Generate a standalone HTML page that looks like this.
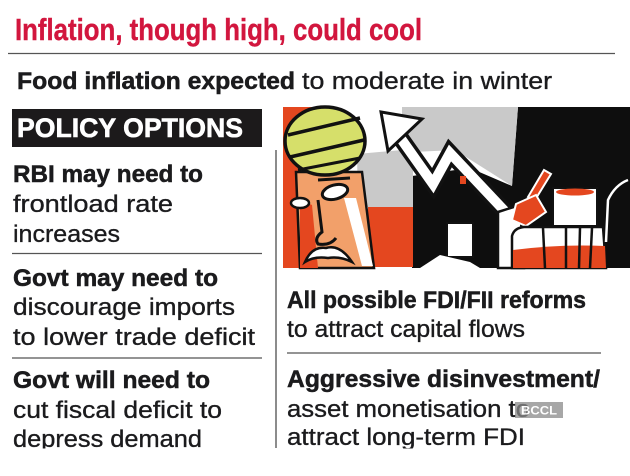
<!DOCTYPE html>
<html>
<head>
<meta charset="utf-8">
<style>
html,body{margin:0;padding:0;background:#fff;}
svg{display:block;}
text{font-family:"Liberation Sans",sans-serif;}
.b{font-weight:bold;stroke:#1b1b1d;stroke-width:0.5;}
.r{stroke:#1b1b1d;stroke-width:0.35;}
</style>
</head>
<body>
<svg width="630" height="476" viewBox="0 0 630 476" xmlns="http://www.w3.org/2000/svg">
<rect x="0" y="0" width="630" height="476" fill="#fff"/>

<!-- Title -->
<text x="15" y="40" font-size="31" font-weight="bold" fill="#d2163e" stroke="#d2163e" stroke-width="0.4" textLength="407" lengthAdjust="spacingAndGlyphs">Inflation, though high, could cool</text>
<line x1="8" y1="53.5" x2="615" y2="53.5" stroke="#555" stroke-width="1.3"/>

<text x="17" y="89" font-size="24" class="b" fill="#1b1b1d" textLength="278" lengthAdjust="spacingAndGlyphs">Food inflation expected</text>
<text x="302" y="89" font-size="24" class="r" fill="#1b1b1d" textLength="250" lengthAdjust="spacingAndGlyphs">to moderate in winter</text>

<!-- Policy options box -->
<rect x="12" y="109" width="250" height="38" fill="#1c1a1b"/>
<text x="17" y="137" font-size="27" font-weight="bold" fill="#fff" stroke="#fff" stroke-width="0.6" textLength="226" lengthAdjust="spacingAndGlyphs">POLICY OPTIONS</text>

<!-- Illustration -->
<g>
  <polygon points="518,107 630,107 630,268 412,268 412,176 470,168 512,186" fill="#0e0e0e"/>
  <polygon points="402,107 518,107 512,186 455,150 413,152 413,207 358,207 357,154 402,150" fill="#c9c9c9"/>
  <rect x="368" y="207" width="45" height="60" fill="#e4471f"/>
  <polygon points="283,107 323,107 323,176 300,176 300,268 283,268" fill="#e4471f"/>
  <polygon points="296,172 362,172 374,268 300,268" fill="#f2a06a" stroke="#111" stroke-width="2.5"/>
  <polygon points="344,198 356,198 373,266 362,266" fill="#fff"/>
  <polygon points="300,200 312,205 318,268 300,268" fill="#e4471f"/>
  <ellipse cx="325" cy="141" rx="40" ry="34" fill="#d6df6a" stroke="#111" stroke-width="3.5"/>
  <line x1="288" y1="135" x2="360" y2="118" stroke="#111" stroke-width="3.5"/>
  <line x1="290" y1="157" x2="364" y2="140" stroke="#111" stroke-width="3.5"/>
  <line x1="298" y1="170" x2="360" y2="158" stroke="#111" stroke-width="3"/>
  <ellipse cx="335" cy="192" rx="13" ry="7" fill="#fff" stroke="#111" stroke-width="3" transform="rotate(-15 335 192)"/>
  <ellipse cx="300" cy="203" rx="9" ry="5" fill="#fff" stroke="#111" stroke-width="2.5"/>
  <line x1="318" y1="180" x2="350" y2="178" stroke="#111" stroke-width="3"/>
  <path d="M318 200 L322 232 Q314 238 318 244 Q330 246 336 238" fill="none" stroke="#111" stroke-width="3"/>
  <path d="M305 262 Q312 246 326 248 Q340 244 352 262 Q340 256 328 258 Q314 256 305 262 Z" fill="#fff" stroke="#111" stroke-width="2.5"/>
  <polyline points="392,126 433,184 450,153 515,222" fill="none" stroke="#111" stroke-width="17" stroke-linejoin="miter"/>
  <polyline points="392,126 433,184 450,153 515,222" fill="none" stroke="#fff" stroke-width="10" stroke-linejoin="miter"/>
  <polygon points="381,112 422,119 388,151" fill="#fff" stroke="#111" stroke-width="3"/>
  <rect x="460" y="176" width="6" height="8" fill="#e4471f"/>
  <rect x="447" y="223" width="26" height="34" fill="#fff" stroke="#111" stroke-width="2"/>
  <polygon points="420,268 440,255 470,262 480,268" fill="#fff"/>
  <polygon points="498,212 520,205 524,268 498,268" fill="#fff" stroke="#111" stroke-width="2.5"/>
  <polygon points="544,170 551,174 535,200 528,197" fill="#e4471f" stroke="#fff" stroke-width="2"/>
  <polygon points="516,204 536,195 546,212 526,226 512,220" fill="#e4471f" stroke="#fff" stroke-width="2"/>
  <rect x="553" y="188" width="44" height="38" fill="#fff" stroke="#111" stroke-width="2"/>
  <ellipse cx="575" cy="192" rx="19" ry="3.5" fill="#e4471f"/>
  <path d="M512 268 L512 236 Q514 228 524 227 L603 227 L606 268 Z" fill="#fff" stroke="#111" stroke-width="2.5"/>
  <path d="M513 250 Q560 244 605 246 L606 268 L513 268 Z" fill="#e4471f"/>
  <line x1="543" y1="228" x2="545" y2="268" stroke="#111" stroke-width="2.5"/>
  <line x1="566" y1="228" x2="566" y2="268" stroke="#111" stroke-width="2.5"/>
  <line x1="580" y1="228" x2="579" y2="268" stroke="#111" stroke-width="2.5"/>
  <line x1="592" y1="228" x2="590" y2="268" stroke="#111" stroke-width="2.5"/>
  <path d="M606 242 L608 200 Q615 185 628 180" fill="none" stroke="#fff" stroke-width="2.5"/>
</g>

<line x1="276" y1="150" x2="276" y2="448" stroke="#666" stroke-width="1.5"/>

<!-- Left column -->
<text x="13" y="182" font-size="24" class="b" fill="#1b1b1d" textLength="190" lengthAdjust="spacingAndGlyphs">RBI may need to</text>
<text x="13" y="212" font-size="24" class="r" fill="#1b1b1d" textLength="160" lengthAdjust="spacingAndGlyphs">frontload rate</text>
<text x="13" y="242" font-size="24" class="r" fill="#1b1b1d" textLength="107" lengthAdjust="spacingAndGlyphs">increases</text>
<line x1="12" y1="253.5" x2="262" y2="253.5" stroke="#555" stroke-width="1.3"/>

<text x="13" y="286" font-size="24" class="b" fill="#1b1b1d" textLength="205" lengthAdjust="spacingAndGlyphs">Govt may need to</text>
<text x="13" y="315" font-size="24" class="r" fill="#1b1b1d" textLength="222" lengthAdjust="spacingAndGlyphs">discourage imports</text>
<text x="13" y="345" font-size="24" class="r" fill="#1b1b1d" textLength="242" lengthAdjust="spacingAndGlyphs">to lower trade deficit</text>
<line x1="12" y1="358" x2="262" y2="358" stroke="#555" stroke-width="1.3"/>

<text x="13" y="388" font-size="24" class="b" fill="#1b1b1d" textLength="197" lengthAdjust="spacingAndGlyphs">Govt will need to</text>
<text x="13" y="418" font-size="24" class="r" fill="#1b1b1d" textLength="209" lengthAdjust="spacingAndGlyphs">cut fiscal deficit to</text>
<text x="13" y="447" font-size="24" class="r" fill="#1b1b1d" textLength="189" lengthAdjust="spacingAndGlyphs">depress demand</text>

<!-- Right column -->
<text x="287" y="308" font-size="24" class="b" fill="#1b1b1d" textLength="299" lengthAdjust="spacingAndGlyphs">All possible FDI/FII reforms</text>
<text x="287" y="337" font-size="24" class="r" fill="#1b1b1d" textLength="238" lengthAdjust="spacingAndGlyphs">to attract capital flows</text>
<line x1="287" y1="353" x2="601" y2="353" stroke="#555" stroke-width="1.3"/>

<text x="287" y="387" font-size="24" class="b" fill="#1b1b1d" textLength="313" lengthAdjust="spacingAndGlyphs">Aggressive disinvestment/</text>
<text x="287" y="417" font-size="24" class="r" fill="#1b1b1d" textLength="243" lengthAdjust="spacingAndGlyphs">asset monetisation to</text>
<text x="287" y="445" font-size="24" class="r" fill="#1b1b1d" textLength="238" lengthAdjust="spacingAndGlyphs">attract long-term FDI</text>

<rect x="0" y="448.5" width="630" height="28" fill="#fff"/>

<rect x="515" y="402" width="48" height="16" fill="#8a8a8a" fill-opacity="0.75"/>
<text x="539" y="414.5" font-size="12" font-weight="bold" fill="#fff" text-anchor="middle" textLength="36" lengthAdjust="spacingAndGlyphs">BCCL</text>
</svg>
</body>
</html>
